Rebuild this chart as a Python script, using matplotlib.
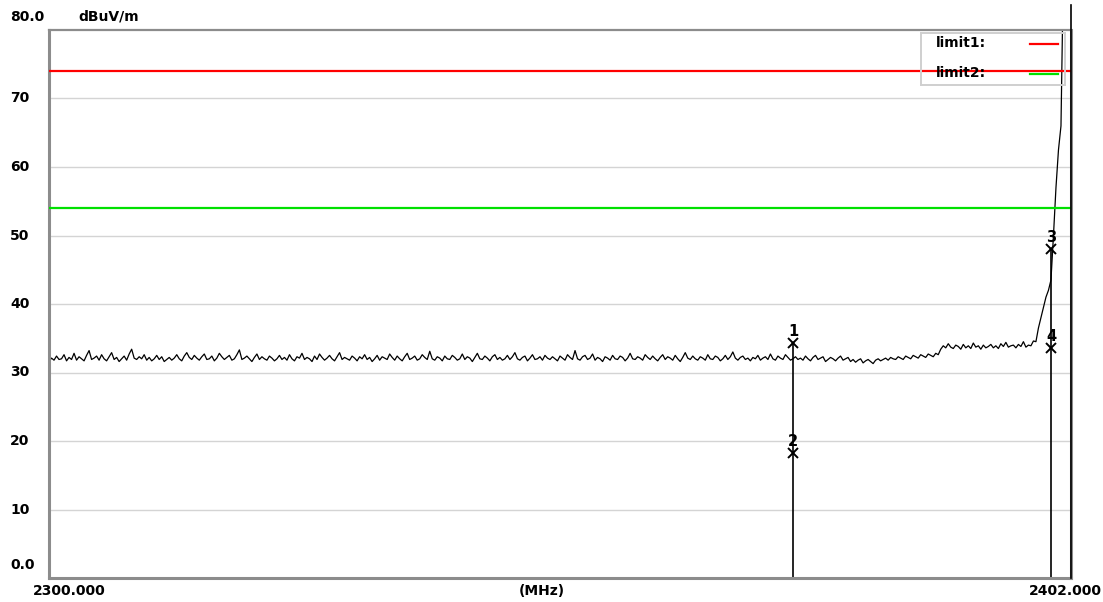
import numpy as np
import matplotlib.pyplot as plt
import matplotlib.transforms as mtransforms

# sweep 2300 ~ 2402 MHz, 0.25 MHz step (dBuV/m)
level = [
    31.6, 32.1, 31.8, 32.4, 31.9, 32.0, 32.6, 31.7, 32.2, 31.9, 32.8, 31.8, 32.3, 32.0, 31.7, 32.5, 33.2, 31.9, 32.1, 32.4,
    31.8, 32.6, 32.0, 31.7, 32.3, 32.9, 31.9, 32.2, 31.6, 32.0, 32.4, 31.8, 32.7, 33.4, 32.1, 31.9, 32.3, 32.0, 32.6, 31.8,
    32.2, 31.7, 32.0, 32.5, 31.9, 32.3, 31.6, 31.9, 32.2, 31.8, 32.1, 32.6, 32.0, 31.7, 32.4, 32.9, 32.2, 31.9, 32.5, 32.1,
    31.8, 32.3, 32.7, 31.9, 32.0, 32.4, 31.7, 32.1, 32.8, 32.3, 31.9, 32.2, 32.5, 31.8, 32.0, 32.6, 33.3, 31.9, 32.1, 32.4,
    32.0, 31.6, 32.2, 32.7, 31.9, 32.3, 32.0, 31.8, 32.4, 32.1, 31.7, 32.0, 32.5, 31.9, 32.2, 31.8, 32.6, 32.0, 31.7, 32.3,
    32.1, 32.8, 31.9, 32.2, 32.0, 31.6, 32.4, 31.9, 32.7, 32.2, 31.8, 32.1, 32.5, 32.0, 31.7, 32.3, 32.9, 31.9, 32.2, 32.0,
    31.8, 32.4, 32.1, 31.7, 32.3, 32.0, 32.6, 31.9, 32.2, 31.6, 32.0, 32.5, 31.8, 32.3, 32.1, 31.9, 32.7, 32.2, 31.8, 32.4,
    32.0, 31.7, 32.3, 32.8, 31.9, 32.1, 32.4, 31.8, 32.0, 32.6, 32.2, 31.9, 33.1, 32.0, 31.8, 32.3, 32.1, 31.7, 32.4, 32.0,
    31.9, 32.5, 32.2, 31.8, 32.0, 32.7, 31.9, 32.3, 32.1, 31.6, 32.2, 32.8, 32.0, 31.9, 32.4, 32.1, 31.7, 32.3, 32.6, 31.9,
    32.2, 31.8, 32.0, 32.5, 31.9, 32.3, 32.9, 32.0, 31.8, 32.2, 32.4, 31.7, 32.1, 32.6, 31.9, 32.0, 32.3, 31.8, 32.5, 32.1,
    31.9, 32.3, 32.0, 31.7, 32.4, 32.1, 31.8, 32.6, 32.2, 31.9, 33.2, 32.0, 31.8, 32.3, 32.5, 31.9, 32.1, 32.7, 31.8, 32.2,
    32.0, 31.6, 32.3, 32.1, 31.8, 32.5, 32.0, 31.9, 32.4, 32.2, 31.7, 32.1, 32.8, 32.0, 31.9, 32.3, 32.1, 31.8, 32.6, 32.2,
    31.9, 32.4, 32.0, 31.7, 32.2, 32.6, 31.9, 32.3, 32.1, 31.8, 32.5, 32.0, 31.6, 32.2, 32.9, 32.1, 31.9, 32.4, 32.0, 31.8,
    32.3, 32.1, 31.8, 32.6, 32.0, 31.9, 32.4, 32.2, 31.7, 32.0, 32.5, 31.9, 32.3, 33.0, 32.1, 31.8, 32.2, 32.4, 31.9, 32.1,
    31.7, 32.2, 32.0, 32.5, 31.8, 32.1, 32.3, 31.9, 32.7, 32.0, 31.8, 32.4, 32.1, 31.9, 32.6, 32.2, 31.8, 32.0, 32.3, 31.9,
    32.1, 31.8, 32.4, 32.0, 31.7, 32.2, 32.5, 31.9, 32.1, 32.3, 31.6, 31.9, 32.2, 32.0, 31.7, 32.1, 32.4, 31.8, 32.0, 32.2,
    31.6, 31.9, 31.5, 31.8, 32.0, 31.4, 31.7, 31.9, 31.6, 31.3, 31.8, 32.0, 31.7, 31.9, 32.1, 31.8, 32.2, 32.0, 31.9, 32.3,
    32.1, 31.9, 32.4, 32.2, 32.0, 32.5, 32.3, 32.1, 32.6, 32.4, 32.2, 32.7, 32.5, 32.3, 32.8, 32.6,
    33.4, 33.9, 33.6, 34.2, 33.7, 33.5, 34.0, 33.8, 33.4, 34.1, 33.6, 33.9, 33.5, 34.3, 33.7, 33.9, 33.4, 34.0, 33.6, 33.8,
    34.1, 33.6, 33.9, 33.5, 34.2, 33.8, 34.4, 33.7, 33.9, 34.0, 33.6, 34.1, 33.8, 34.5, 33.7, 34.0, 33.9, 34.6,
    34.5, 36.5, 38.0, 39.5, 41.0, 42.0, 43.5, 50.0, 57.0, 62.5, 66.0, 90.0, 90.0, 90.0, 90.0,
]
freq = np.linspace(2300, 2402, len(level))

# 리밋 라인
limit_names = ["limit1:", "limit2:"]
limit_values = [74, 54]
limit_colors = ["#ff0000", "#00e000"]

# 마커
marker_freq = [2374.25, 2374.25, 2400.0, 2400.0]
marker_level = [34.3, 18.2, 48.0, 33.6]
marker_text = ["1", "2", "3", "4"]

ytick_vals = [10, 20, 30, 40, 50, 60, 70]

W, H = 1103, 602
fig = plt.figure(figsize=(W / 100, H / 100), dpi=100)
ax = fig.add_axes([49 / W, 1 - 578 / H, (1071 - 49) / W, (578 - 30) / H])
ax.set_xlim(2300, 2402)
ax.set_ylim(0, 80)

for y in ytick_vals:
    ax.axhline(y, color="#d4d4d4", lw=1, zorder=0)

for v, c in zip(limit_values, limit_colors):
    ax.axhline(v, color=c, lw=1.6, zorder=3)

ax.plot(freq, level, color="black", lw=0.9, zorder=2)

# 마커 세로선
for f in sorted(set(marker_freq)):
    top = max(l for mf, l in zip(marker_freq, marker_level) if mf == f)
    ax.vlines(f, 0, top, color="black", lw=1.2, zorder=2)
ax.plot(marker_freq, marker_level, "x", color="black", ms=7, mew=1.4, zorder=4)
for f, l, t in zip(marker_freq, marker_level, marker_text):
    ax.annotate(t, (f, l), xytext=(0, 3), textcoords="offset points",
                ha="center", va="bottom", fontsize=10.5, fontweight="bold",
                family="DejaVu Sans")

# 오른쪽 끝 트레이스
ax.plot([2402, 2402], [0, 83.6], color="black", lw=1.2, clip_on=False, zorder=5)

ax.set_xticks([])
ax.set_yticks([])
for s in ["left", "bottom", "right"]:
    ax.spines[s].set_color("#8c8c8c")
    ax.spines[s].set_linewidth(2.2)
ax.spines["top"].set_color("#8c8c8c")
ax.spines["top"].set_linewidth(1.6)

fnt = dict(fontsize=10, fontweight="bold", family="DejaVu Sans")
tr = mtransforms.blended_transform_factory(fig.transFigure, ax.transData)
for y in ytick_vals:
    ax.text(10 / W, y, str(y), transform=tr, ha="left", va="center", **fnt)
fig.text(10 / W, 1 - 565 / H, "0.0", ha="left", va="center", **fnt)
fig.text(10 / W, 1 - 17 / H, "80.0", ha="left", va="center", **fnt)
fig.text(78 / W, 1 - 17 / H, "dBuV/m", ha="left", va="center", **fnt)
fig.text(69 / W, 1 - 591 / H, "2300.000", ha="center", va="center", **fnt)
fig.text(542 / W, 1 - 591 / H, "(MHz)", ha="center", va="center", **fnt)
fig.text(1065 / W, 1 - 591 / H, "2402.000", ha="center", va="center", **fnt)

# 범례 박스
lax = fig.add_axes([921 / W, 1 - 85 / H, (1065 - 921) / W, (85 - 33) / H])
lax.set_xlim(0, 1)
lax.set_ylim(0, 1)
lax.set_xticks([])
lax.set_yticks([])
lax.patch.set_alpha(0)
for s in lax.spines.values():
    s.set_color("#cfcfcf")
    s.set_linewidth(1.4)
for i, (name, c) in enumerate(zip(limit_names, limit_colors)):
    yy = 0.8 - i * 0.57
    lax.text(0.1, yy, name, ha="left", va="center", **fnt)
    lax.plot([0.76, 0.95], [yy - 0.02, yy - 0.02], color=c, lw=1.6)

fig.savefig("out.png", dpi=100)
